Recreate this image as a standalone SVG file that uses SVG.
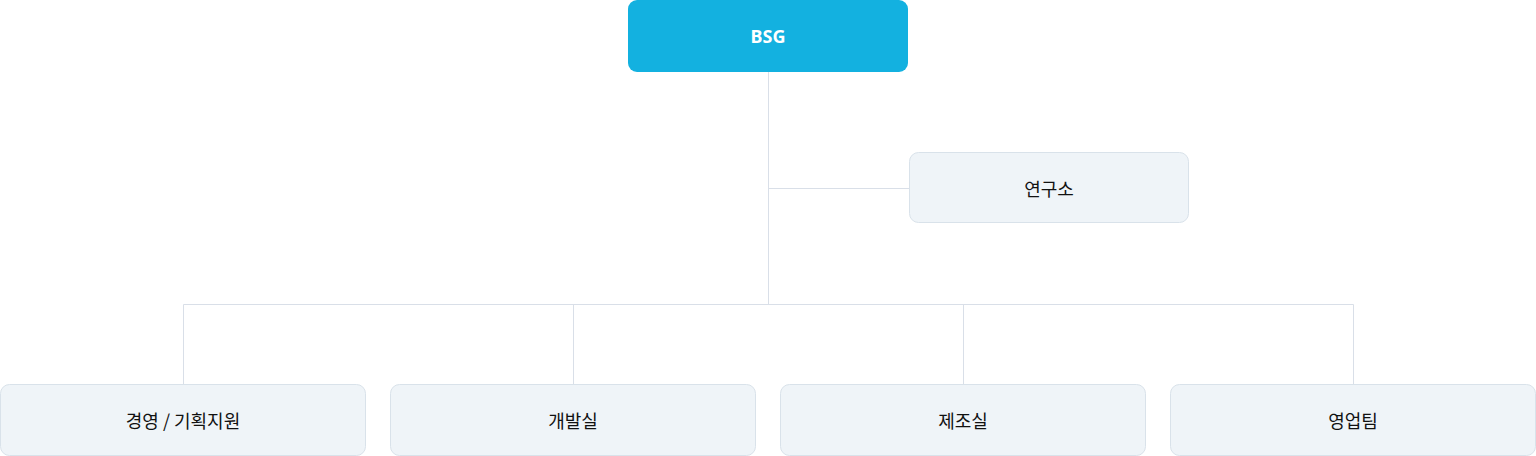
<svg xmlns="http://www.w3.org/2000/svg" width="1536" height="456" viewBox="0 0 1536 456">
<style>
.box{fill:#eff4f8;stroke:#d9e2ea;stroke-width:1}
.t{font-family:"Noto Sans CJK KR","Noto Sans",sans-serif;font-size:18px;fill:#111;text-anchor:middle;dominant-baseline:central}
.ln{stroke:#d9dfe8;stroke-width:1;fill:none}
</style>
<rect width="1536" height="456" fill="#fff"/>
<g id="connectors">
<path class="ln" d="M768.5 72V304.5M768.5 188.5H910M183.5 384V304.5H1353.5V384M573.5 304.5V384M963.5 304.5V384"/>
</g>
<g id="bsg"><rect x="628" y="0" width="280" height="72" rx="9" fill="#13b1e0"/><text class="t" x="768" y="36" style="fill:#fff;font-weight:bold;font-family:'Noto Sans',sans-serif">BSG</text></g>
<g id="lab"><rect class="box" x="909.5" y="152.5" width="279" height="70" rx="9"/><text class="t" x="1049" y="188">연구소</text></g>
<g id="n1"><rect class="box" x="0.5" y="384.5" width="365" height="71" rx="9"/><text class="t" x="183" y="420">경영 / 기획지원</text></g>
<g id="n2"><rect class="box" x="390.5" y="384.5" width="365" height="71" rx="9"/><text class="t" x="573" y="420">개발실</text></g>
<g id="n3"><rect class="box" x="780.5" y="384.5" width="365" height="71" rx="9"/><text class="t" x="963" y="420">제조실</text></g>
<g id="n4"><rect class="box" x="1170.5" y="384.5" width="365" height="71" rx="9"/><text class="t" x="1353" y="420">영업팀</text></g>
</svg>
